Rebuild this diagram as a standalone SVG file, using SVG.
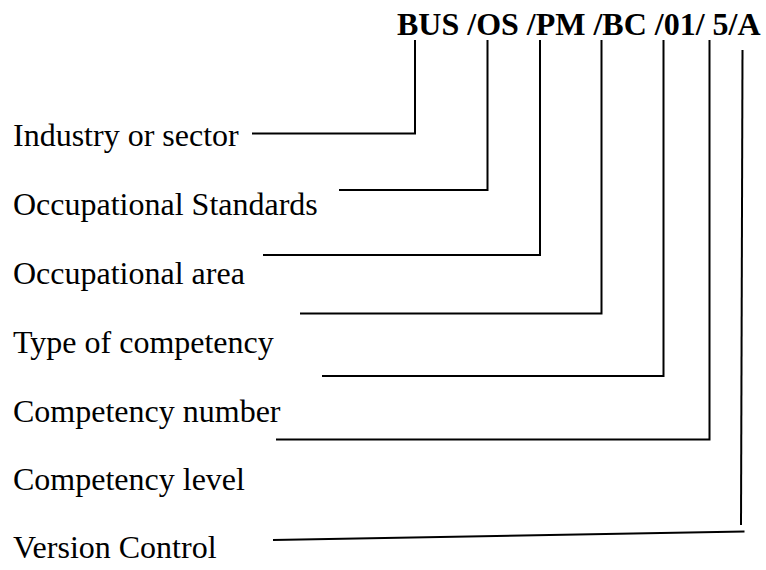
<svg xmlns="http://www.w3.org/2000/svg" width="766" height="570" viewBox="0 0 766 570">
<style>
.lbl{font-family:"Liberation Serif","Times New Roman",serif;font-size:32px;fill:#000}
.ttl{font-family:"Liberation Serif","Times New Roman",serif;font-size:32px;font-weight:bold;fill:#000}
.c{fill:none;stroke:#000;stroke-width:2;stroke-linejoin:miter}
</style>
<rect width="766" height="570" fill="#fff"/>
<g id="code"><text class="ttl" x="397" y="35">BUS /OS /PM /BC /01/ 5/A</text></g>
<g id="industry"><text class="lbl" x="13" y="146">Industry or sector</text></g>
<g id="standards"><text class="lbl" x="13" y="215">Occupational Standards</text></g>
<g id="area"><text class="lbl" x="13" y="284">Occupational area</text></g>
<g id="type"><text class="lbl" x="13" y="353">Type of competency</text></g>
<g id="number"><text class="lbl" x="13" y="422">Competency number</text></g>
<g id="level"><text class="lbl" x="13" y="490">Competency level</text></g>
<g id="version"><text class="lbl" x="13" y="558">Version Control</text></g>
<g id="connectors">
<polyline class="c" points="415,40 415,133.5 252,133.5"/>
<polyline class="c" points="487.5,40 487.5,190 339,190"/>
<polyline class="c" points="540,40 540,255 263,255"/>
<polyline class="c" points="601.5,40 601.5,313.5 300,313.5"/>
<polyline class="c" points="663.5,40 663.5,376 322,376"/>
<polyline class="c" points="709.5,40 709.5,439.5 276,439.5"/>
<line class="c" x1="742.5" y1="50" x2="741" y2="525"/>
<line class="c" x1="273" y1="540" x2="744.5" y2="531.5"/>
</g>
</svg>
